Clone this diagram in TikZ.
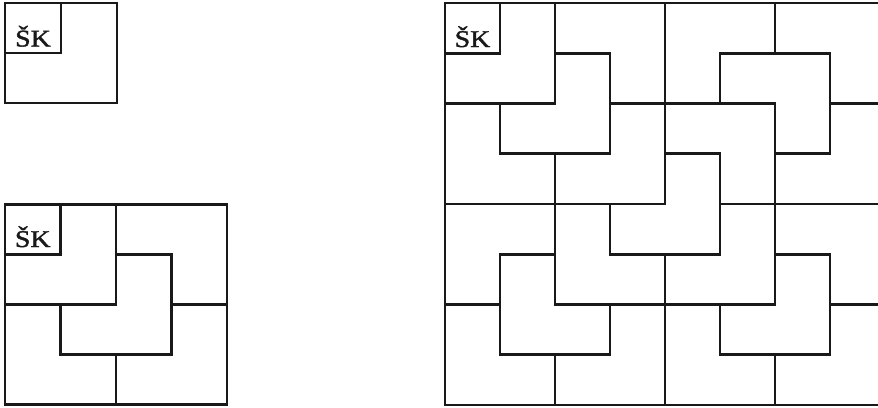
\documentclass[tikz,border=0pt]{standalone}
\usepackage{fontspec}
\setmainfont{Liberation Serif}
\newfontfamily\skfont{Liberation Serif}[FakeBold=1.6]
\begin{document}
\begin{tikzpicture}[x=1pt,y=-1pt,
  wall/.style={line width=2.6pt, line cap=rect, line join=miter, black!90},
  sklabel/.style={font=\skfont\fontsize{24}{26}\selectfont, xscale=1.16, inner sep=0pt, anchor=base, black!90}]
\useasboundingbox (0,0) rectangle (878,407);
\clip (0,0) rectangle (878,407);
% ---- 2x2 board
\begin{scope}[xshift=5pt, yshift=-3pt, x=56pt, y=-50pt]
  \draw[wall] (0,0) rectangle (2,2);
  \draw[wall] (1,0) -- (1,1) -- (0,1);
\end{scope}
\node[sklabel] (sk1) at (33,46.5) {ŠK};
% ---- 4x4 board
\begin{scope}[xshift=5pt, yshift=-204.5pt, x=55.5pt, y=-50pt]
  \draw[wall] (0,0) rectangle (4,4);
  \draw[wall] (1,0) -- (1,1) -- (0,1);
  \draw[wall] (0,2) -- (2,2) -- (2,0);
  \draw[wall] (2,1) -- (3,1) -- (3,3) -- (1,3) -- (1,2);
  \draw[wall] (3,2) -- (4,2);
  \draw[wall] (2,3) -- (2,4);
\end{scope}
\node[sklabel] (sk2) at (32.75,247) {ŠK};
% ---- 8x8 board
\begin{scope}[xshift=445pt, yshift=-3pt, x=55pt, y=-50.25pt]
  \draw[wall] (0,0) rectangle (8,8);
  % top-left quadrant
  \draw[wall] (1,0) -- (1,1) -- (0,1);
  \draw[wall] (0,2) -- (2,2) -- (2,0);
  \draw[wall] (2,1) -- (3,1) -- (3,3) -- (1,3) -- (1,2);
  \draw[wall] (3,2) -- (4,2);
  \draw[wall] (2,3) -- (2,4);
  % bottom-right quadrant
  \draw[wall] (5,4) -- (5,5) -- (4,5);
  \draw[wall] (4,6) -- (6,6) -- (6,4);
  \draw[wall] (6,5) -- (7,5) -- (7,7) -- (5,7) -- (5,6);
  \draw[wall] (7,6) -- (8,6);
  \draw[wall] (6,7) -- (6,8);
  % top-right quadrant
  \draw[wall] (6,0) -- (6,1);
  \draw[wall] (5,2) -- (5,1) -- (7,1) -- (7,3);
  \draw[wall] (4,2) -- (6,2) -- (6,4);
  \draw[wall] (7,2) -- (8,2);
  \draw[wall] (4,3) -- (5,3);
  \draw[wall] (6,3) -- (7,3);
  % bottom-left quadrant
  \draw[wall] (2,4) -- (2,6);
  \draw[wall] (1,7) -- (1,5) -- (2,5);
  \draw[wall] (0,6) -- (1,6);
  \draw[wall] (2,6) -- (4,6);
  \draw[wall] (3,6) -- (3,7) -- (1,7);
  \draw[wall] (2,7) -- (2,8);
  % central tromino and quadrant borders
  \draw[wall] (4,0) -- (4,4) -- (0,4);
  \draw[wall] (3,4) -- (3,5) -- (5,5) -- (5,3);
  \draw[wall] (5,4) -- (8,4);
  \draw[wall] (4,5) -- (4,8);
\end{scope}
\node[sklabel] (sk3) at (472.5,47) {ŠK};
\end{tikzpicture}
\end{document}
